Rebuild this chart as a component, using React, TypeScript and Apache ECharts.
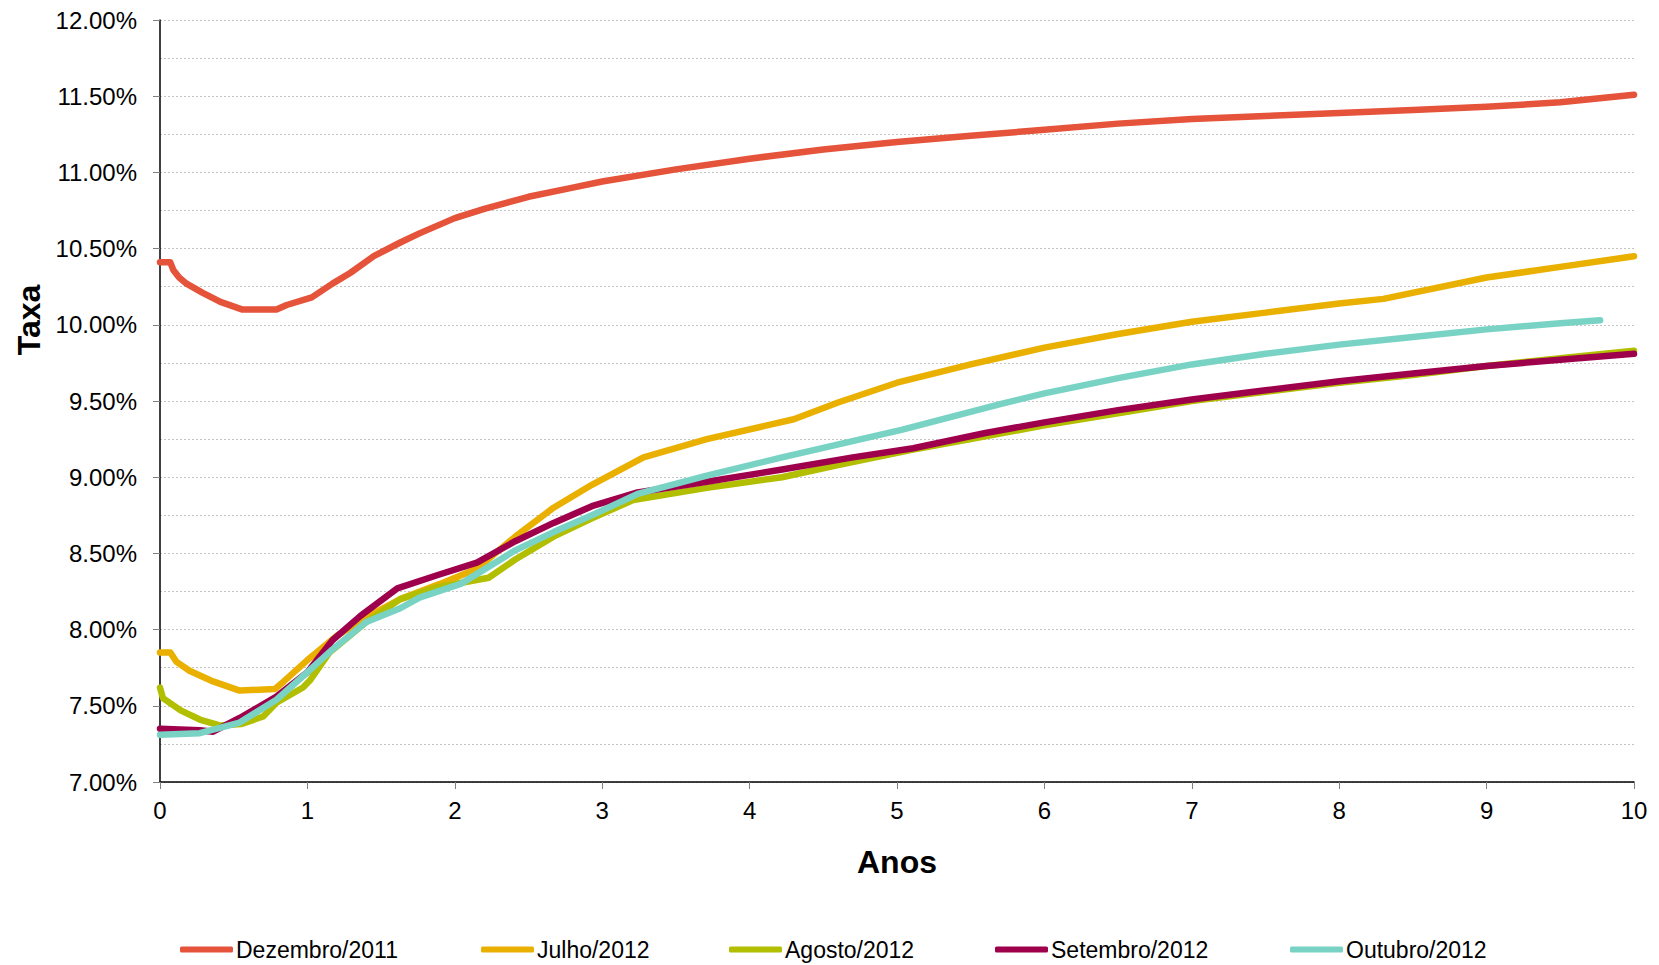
import React, { useEffect, useRef } from "react";
import * as echarts from "echarts";

const seriesNames = ["Dezembro/2011", "Julho/2012", "Agosto/2012", "Setembro/2012", "Outubro/2012"];
const seriesColors = ["#E5533A", "#EAB000", "#B2BE00", "#9E004C", "#79D3C5"];

const dez2011: [number, number][] = [
  [0, 10.41], [0.07, 10.41], [0.09, 10.36], [0.13, 10.31], [0.18, 10.27], [0.29, 10.21],
  [0.41, 10.15], [0.56, 10.1], [0.79, 10.1], [0.86, 10.13], [1.03, 10.18], [1.17, 10.27],
  [1.29, 10.34], [1.45, 10.45], [1.63, 10.54], [1.76, 10.6], [2.0, 10.7], [2.2, 10.76],
  [2.5, 10.84], [2.8, 10.9], [3.0, 10.94], [3.5, 11.02], [4.0, 11.09], [4.5, 11.15],
  [5.0, 11.2], [5.5, 11.24], [6.0, 11.28], [6.5, 11.32], [7.0, 11.35], [7.5, 11.37],
  [8.0, 11.39], [8.5, 11.41], [9.0, 11.43], [9.5, 11.46], [10, 11.51],
];

const jul2012: [number, number][] = [
  [0, 7.85], [0.07, 7.85], [0.11, 7.79], [0.2, 7.73], [0.36, 7.66], [0.54, 7.6],
  [0.78, 7.61], [0.84, 7.66], [1.0, 7.8], [1.2, 7.96], [1.4, 8.08], [1.63, 8.2],
  [1.9, 8.3], [2.15, 8.4], [2.41, 8.61], [2.67, 8.8], [2.93, 8.95], [3.28, 9.13],
  [3.71, 9.25], [4.3, 9.38], [4.6, 9.49], [5.0, 9.62], [5.5, 9.74], [6.0, 9.85],
  [6.5, 9.94], [7.0, 10.02], [7.5, 10.08], [8.0, 10.14], [8.3, 10.17], [9.0, 10.31],
  [9.5, 10.38], [10, 10.45],
];

const ago2012: [number, number][] = [
  [0, 7.62], [0.02, 7.55], [0.14, 7.47], [0.27, 7.41], [0.41, 7.37], [0.55, 7.38],
  [0.7, 7.43], [0.79, 7.52], [0.97, 7.62], [1.02, 7.67], [1.15, 7.85], [1.4, 8.05],
  [1.63, 8.2], [1.89, 8.28], [2.23, 8.34], [2.41, 8.46], [2.67, 8.61], [2.93, 8.73],
  [3.21, 8.85], [3.71, 8.93], [4.22, 9.0], [4.6, 9.08], [5.1, 9.18], [5.5, 9.25],
  [6.0, 9.34], [6.5, 9.42], [7.0, 9.5], [7.5, 9.56], [8.0, 9.62], [8.5, 9.67],
  [9.0, 9.73], [9.5, 9.78], [10, 9.83],
];

const set2012: [number, number][] = [
  [0, 7.35], [0.27, 7.34], [0.36, 7.33], [0.54, 7.42], [0.79, 7.56], [1.0, 7.72],
  [1.17, 7.93], [1.36, 8.09], [1.61, 8.27], [1.89, 8.36], [2.15, 8.44], [2.41, 8.58],
  [2.67, 8.7], [2.93, 8.81], [3.24, 8.9], [3.71, 8.97], [4.22, 9.05], [4.7, 9.13],
  [5.11, 9.19], [5.6, 9.29], [6.0, 9.36], [6.5, 9.44], [7.0, 9.51], [7.5, 9.57],
  [8.0, 9.63], [8.5, 9.68], [9.0, 9.73], [9.5, 9.77], [10, 9.81],
];

const out2012: [number, number][] = [
  [0, 7.31], [0.27, 7.32], [0.54, 7.39], [0.79, 7.54], [1.0, 7.72], [1.17, 7.87],
  [1.4, 8.05], [1.63, 8.14], [1.76, 8.21], [2.04, 8.3], [2.41, 8.52], [2.67, 8.64],
  [2.93, 8.75], [3.24, 8.89], [3.71, 9.01], [4.22, 9.13], [5.03, 9.31], [5.7, 9.48],
  [6.0, 9.55], [6.5, 9.65], [7.0, 9.74], [7.5, 9.81], [8.0, 9.87], [8.5, 9.92],
  [9.0, 9.97], [9.5, 10.01], [9.77, 10.03],
];

const allSeries = [dez2011, jul2012, ago2012, set2012, out2012];
const legendLefts = [180, 481, 729, 995, 1290];

const FONT = 'Arial, "Liberation Sans", sans-serif';

export default function App() {
  const ref = useRef<HTMLDivElement>(null);
  useEffect(() => {
    if (!ref.current) return;
    const chart = echarts.init(ref.current, null, { renderer: "svg" });
    chart.setOption({
      animation: false,
      backgroundColor: "#ffffff",
      grid: { left: 160, right: 25, top: 20, bottom: 183, containLabel: false },
      xAxis: {
        type: "value",
        min: 0,
        max: 10,
        interval: 1,
        axisLine: { show: true, lineStyle: { color: "#000000", width: 1.5 } },
        axisTick: { show: true, length: 7, lineStyle: { color: "#808080" } },
        axisLabel: { fontSize: 24, color: "#000000", fontFamily: FONT, margin: 16 },
        splitLine: { show: false },
      },
      yAxis: {
        type: "value",
        min: 7,
        max: 12,
        interval: 0.5,
        axisLine: { show: true, lineStyle: { color: "#000000", width: 1.5 } },
        axisTick: { show: true, length: 7, lineStyle: { color: "#808080" } },
        axisLabel: {
          fontSize: 24,
          color: "#000000",
          fontFamily: FONT,
          margin: 23,
          formatter: (v: number) => v.toFixed(2) + "%",
        },
        splitLine: { show: true, lineStyle: { color: "#c4c4c4", type: [2, 2], width: 1 } },
        minorTick: { show: false, splitNumber: 2 },
        minorSplitLine: { show: true, lineStyle: { color: "#c4c4c4", type: [2, 2], width: 1 } },
      },
      legend: seriesNames.map((name, i) => ({
        show: true,
        data: [name],
        left: legendLefts[i],
        top: 938,
        padding: 0,
        icon: "roundRect",
        itemWidth: 53,
        itemHeight: 6,
        itemGap: 0,
        textStyle: { fontSize: 23, color: "#000000", fontFamily: FONT, padding: [0, 0, 0, -2] },
      })),
      graphic: [
        {
          type: "text",
          x: 29,
          y: 320,
          rotation: Math.PI / 2,
          style: {
            text: "Taxa",
            font: 'bold 32px Arial, "Liberation Sans", sans-serif',
            fill: "#000000",
            align: "center",
            verticalAlign: "middle",
          },
        },
        {
          type: "text",
          x: 897,
          y: 862,
          style: {
            text: "Anos",
            font: 'bold 32px Arial, "Liberation Sans", sans-serif',
            fill: "#000000",
            align: "center",
            verticalAlign: "middle",
          },
        },
      ],
      series: allSeries.map((d, i) => ({
        name: seriesNames[i],
        type: "line",
        data: d,
        symbol: "none",
        smooth: false,
        color: seriesColors[i],
        lineStyle: { color: seriesColors[i], width: 6.5, cap: "round", join: "round" },
        itemStyle: { color: seriesColors[i] },
        z: 2 + i,
      })),
    });
    return () => chart.dispose();
  }, []);
  return (
    <div
      ref={ref}
      style={{ position: "absolute", left: 0, top: 0, width: 1659, height: 965, background: "#fff" }}
    />
  );
}
